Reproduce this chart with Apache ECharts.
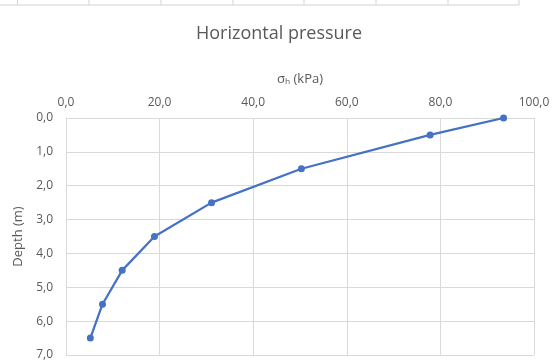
<!DOCTYPE html>
<html><head><meta charset="utf-8">
<script src="https://cdn.jsdelivr.net/npm/echarts@6/dist/echarts.min.js"></script>
<style>html,body{margin:0;padding:0;background:#fff}#c{width:558px;height:361px}</style>
</head><body><div id="c"></div>
<script>
const titleText = 'Horizontal pressure';
const xAxisName = 'σₕ (kPa)';
const yAxisName = 'Depth (m)';
const pressure = [93.5, 77.8, 50.3, 31.1, 18.9, 12.0, 7.8, 5.2];
const depth = [0.0, 0.5, 1.5, 2.5, 3.5, 4.5, 5.5, 6.5];
const sheetColumnX = [17.5, 89, 161, 233, 304, 376, 448, 519];

const chart = echarts.init(document.getElementById('c'), null, {renderer: 'canvas'});
const fmt = v => v.toFixed(1).replace('.', ',');
const txt = '#595959';
const font = "'Open Sans', 'Liberation Sans', sans-serif";
const graphics = [{type: 'line', shape: {x1: 0, y1: 5, x2: 519, y2: 5}, style: {stroke: '#d4d4d4', lineWidth: 1.2}, silent: true}];
sheetColumnX.forEach(x => graphics.push({type: 'line', shape: {x1: x, y1: 0, x2: x, y2: 5}, style: {stroke: '#d4d4d4', lineWidth: 1}, silent: true}));

chart.setOption({
  animation: false,
  backgroundColor: '#fff',
  title: {text: titleText, left: 'center', top: 20, textStyle: {fontFamily: font, fontSize: 18, fontWeight: 'normal', color: txt}},
  graphic: graphics,
  grid: {left: 66, right: 24, top: 118, height: 240},
  xAxis: {
    type: 'value', position: 'top', min: 0, max: 100, interval: 20,
    name: xAxisName, nameLocation: 'middle', nameGap: 32,
    nameTextStyle: {fontFamily: font, fontSize: 13, color: txt},
    axisLine: {show: false}, axisTick: {show: false},
    axisLabel: {formatter: fmt, fontFamily: font, fontSize: 12, color: txt, margin: 9},
    splitLine: {show: true, lineStyle: {color: '#d9d9d9', width: 1}}
  },
  yAxis: {
    type: 'value', inverse: true, min: 0, max: 7, interval: 1,
    name: yAxisName, nameLocation: 'middle', nameGap: 40, nameRotate: 90,
    nameTextStyle: {fontFamily: font, fontSize: 13, color: txt},
    axisLine: {show: true, lineStyle: {color: '#d9d9d9'}}, axisTick: {show: false},
    axisLabel: {formatter: fmt, fontFamily: font, fontSize: 12, color: txt, margin: 13},
    splitLine: {show: true, lineStyle: {color: '#d9d9d9', width: 1}}
  },
  series: [{
    type: 'line', data: pressure.map((p, i) => [p, depth[i]]),
    symbol: 'circle', symbolSize: 7,
    lineStyle: {color: '#4472C4', width: 2.25},
    itemStyle: {color: '#4472C4'}
  }]
});
</script></body></html>
